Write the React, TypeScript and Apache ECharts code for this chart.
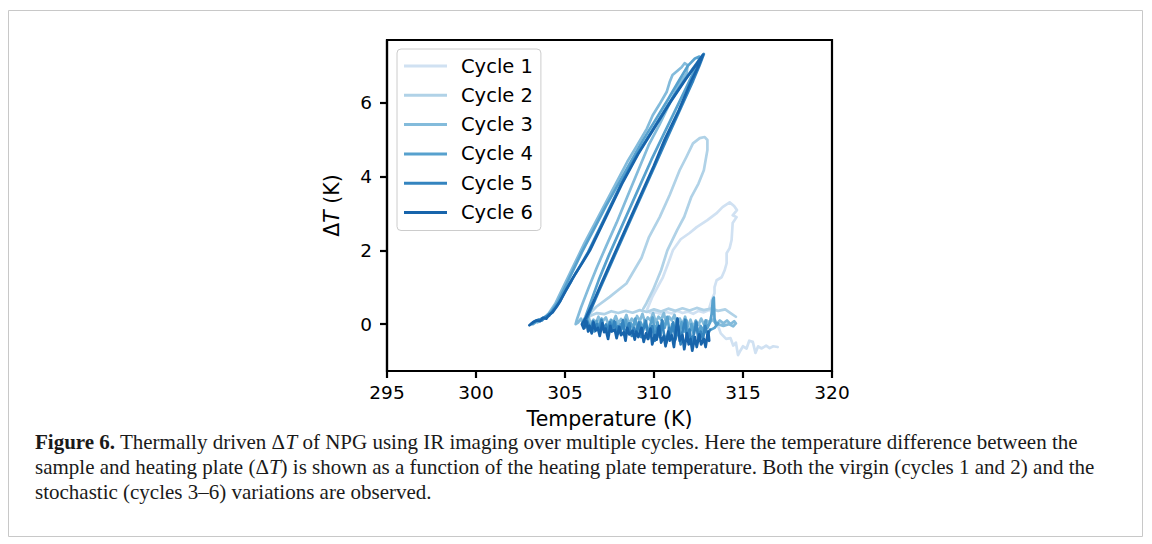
import React, { useEffect, useRef } from "react";
import * as echarts from "echarts";

// ---- data ----
const cycleNames = ["Cycle 1", "Cycle 2", "Cycle 3", "Cycle 4", "Cycle 5", "Cycle 6"];
const cycleColors = ["#d0e1f2", "#b0d2e7", "#83bbdb", "#57a1ce", "#3484bf", "#1764ab"];
const xTickValues = [295, 300, 305, 310, 315, 320];
const yTickValues = [0, 2, 4, 6];

const cycle1: number[][] = [
  [313.1, 0.38], [312.8, 0.32], [312.5, 0.36], [312.2, 0.28], [311.9, 0.34], [311.6, 0.3], [311.3, 0.36],
  [311.0, 0.29], [310.7, 0.33], [310.4, 0.27], [310.1, 0.32], [309.8, 0.3], [309.6, 0.38],
  [309.9, 0.73], [310.2, 1.0], [310.5, 1.27], [310.8, 1.65], [311.06, 2.0], [311.5, 2.3], [312.0, 2.47],
  [312.4, 2.63], [313.0, 2.82], [313.5, 3.0], [313.85, 3.17], [314.25, 3.3], [314.5, 3.2], [314.66, 3.09],
  [314.42, 2.95], [314.64, 2.9], [314.42, 2.74], [314.36, 2.28], [314.25, 2.06], [314.08, 1.92], [314.08, 1.65],
  [313.97, 1.46], [313.8, 1.27], [313.52, 1.19], [313.4, 1.0], [313.4, 0.84], [313.24, 0.65], [313.12, 0.46],
  [313.3, 0.2], [313.6, -0.05], [313.75, -0.25], [314.05, -0.4], [314.3, -0.38], [314.45, -0.58], [314.6, -0.5],
  [314.72, -0.84], [314.85, -0.72], [315.0, -0.6], [315.2, -0.66], [315.35, -0.45], [315.55, -0.48],
  [315.7, -0.78], [315.85, -0.6], [316.05, -0.66], [316.3, -0.58], [316.5, -0.65], [316.7, -0.6], [316.95, -0.62],
];

const cycle2: number[][] = [
  [309.4, 0.42], [309.57, 0.56], [309.94, 0.92], [310.4, 1.46], [310.75, 2.0], [311.3, 2.55], [311.7, 2.91],
  [312.1, 3.45], [312.5, 3.81], [312.8, 4.17], [313.0, 4.72], [313.0, 4.99], [312.85, 5.07], [312.57, 5.04],
  [312.19, 4.9], [311.82, 4.53], [311.44, 4.17], [310.88, 3.5], [310.32, 2.9], [309.72, 2.36], [309.3, 1.8],
  [308.45, 1.1], [307.51, 0.74], [306.76, 0.47], [306.39, 0.29], [306.1, 0.12],
  [306.4, 0.22], [306.8, 0.3], [307.2, 0.27], [307.6, 0.35], [308.0, 0.3], [308.4, 0.36], [308.8, 0.31],
  [309.2, 0.38], [309.6, 0.33], [310.0, 0.4], [310.4, 0.34], [310.8, 0.42], [311.2, 0.36], [311.6, 0.43],
  [312.0, 0.37], [312.4, 0.44], [312.8, 0.38], [313.2, 0.42], [313.6, 0.36], [314.0, 0.4], [314.3, 0.3], [314.6, 0.2],
];

const cycle3: number[][] = [
  [303.45, 0.05], [303.8, 0.15], [304.1, 0.3], [304.45, 0.55], [304.8, 0.9], [305.2, 1.3], [305.6, 1.7],
  [306.1, 2.2], [306.7, 2.75], [307.3, 3.3], [307.9, 3.85], [308.5, 4.4], [309.0, 4.8], [309.6, 5.3],
  [309.93, 5.66], [310.3, 5.95], [310.71, 6.29], [310.88, 6.56], [311.04, 6.75], [311.55, 6.96], [311.72, 7.07],
  [311.89, 7.02], [311.83, 6.8], [311.55, 6.61], [311.4, 6.5],
  [310.9, 6.0], [310.3, 5.4], [309.7, 4.85], [309.1, 4.15], [308.5, 3.45], [307.9, 2.75], [307.3, 2.1],
  [306.8, 1.55], [306.3, 0.95], [305.9, 0.45], [305.65, 0.1], [305.6, 0.0],
  [305.75, 0.05], [305.9, 0.15], [306.05, -0.02], [306.2, 0.1], [306.32, 0.2], [306.45, 0.0], [306.6, 0.12],
  [306.75, 0.05], [306.88, 0.2], [307.0, -0.02], [307.15, 0.1], [307.3, 0.18], [307.42, 0.0], [307.58, 0.12],
  [307.7, 0.05], [307.85, 0.22], [308.0, 0.02], [308.15, 0.14], [308.3, 0.08], [308.45, 0.25], [308.6, 0.0],
  [308.75, 0.15], [308.9, 0.05], [309.05, 0.22], [309.2, 0.08], [309.35, 0.28], [309.5, 0.05], [309.65, 0.18],
  [309.8, 0.1], [309.95, 0.3], [310.1, 0.05], [310.25, 0.2], [310.4, 0.12], [310.55, 0.3], [310.7, 0.0],
  [310.85, 0.2], [311.0, 0.1], [311.15, 0.25], [311.3, -0.05], [311.45, 0.15], [311.6, 0.0], [311.75, 0.2],
  [311.9, -0.05], [312.05, 0.12], [312.2, -0.08], [312.35, 0.1], [312.5, -0.02], [312.65, 0.15], [312.8, 0.0],
  [312.95, 0.1], [313.1, 0.05], [313.3, 0.12], [313.5, 0.0], [313.7, 0.1], [313.9, 0.02], [314.1, 0.1],
  [314.3, 0.0], [314.5, 0.08], [314.6, 0.02], [314.45, -0.06], [314.2, 0.0], [313.9, -0.05], [313.6, 0.0],
];

const cycle4: number[][] = [
  [303.2, 0.0], [303.55, 0.12], [303.9, 0.2], [304.25, 0.35], [304.6, 0.6], [305.0, 1.0], [305.45, 1.45],
  [305.95, 1.95], [306.6, 2.55], [307.3, 3.2], [308.0, 3.8], [308.7, 4.4], [309.4, 5.0], [310.1, 5.55],
  [310.8, 6.1], [311.4, 6.6], [311.9, 7.0], [312.3, 7.2], [312.55, 7.25], [312.5, 7.1],
  [311.9, 6.5], [311.2, 5.8], [310.5, 5.1], [309.85, 4.45], [309.25, 3.8], [308.65, 3.15], [308.05, 2.5],
  [307.45, 1.85], [306.9, 1.2], [306.45, 0.6], [306.15, 0.2], [306.0, 0.05],
  [306.12, -0.08], [306.25, 0.12], [306.4, -0.12], [306.52, 0.02], [306.65, -0.2], [306.78, 0.08],
  [306.9, -0.1], [307.05, 0.15], [307.2, -0.15], [307.32, 0.0], [307.45, -0.22], [307.6, 0.1], [307.72, -0.08],
  [307.85, 0.05], [308.0, -0.25], [308.12, 0.0], [308.3, -0.15], [308.42, 0.12], [308.55, -0.2], [308.7, 0.02],
  [308.82, -0.1], [308.95, 0.15], [309.1, -0.22], [309.25, 0.05], [309.38, -0.12], [309.5, 0.1], [309.65, -0.25],
  [309.8, 0.0], [309.92, 0.18], [310.05, -0.2], [310.2, 0.05], [310.35, -0.3], [310.48, 0.08], [310.6, -0.1],
  [310.75, 0.2], [310.9, -0.28], [311.02, 0.0], [311.15, -0.15], [311.3, 0.15], [311.42, -0.32], [311.55, 0.05],
  [311.7, -0.2], [311.82, 0.1], [311.95, -0.35], [312.1, 0.0], [312.22, -0.25], [312.35, 0.08], [312.5, -0.3],
  [312.62, -0.05], [312.75, -0.2], [312.9, 0.1], [313.0, -0.1], [313.15, 0.05], [313.25, 0.3], [313.3, 0.65],
  [313.36, 0.72], [313.4, 0.15], [313.48, 0.0], [313.6, 0.02], [313.4, -0.1], [313.2, -0.15],
];

const cycle5: number[][] = [
  [303.1, 0.0], [303.3, 0.08], [303.5, 0.12], [303.7, 0.1], [303.9, 0.2], [304.1, 0.22], [304.3, 0.35],
  [304.55, 0.5], [304.75, 0.65], [305.0, 0.88], [305.3, 1.12], [305.6, 1.38], [305.9, 1.62], [306.3, 1.95],
  [307.2, 2.85], [308.1, 3.75], [309.0, 4.55], [309.9, 5.25], [310.8, 5.95], [311.7, 6.6], [312.45, 7.1],
  [312.8, 7.32],
  [312.55, 7.0], [312.2, 6.6], [311.5, 5.85], [310.75, 5.05], [310.1, 4.35], [309.45, 3.65], [308.8, 2.95],
  [308.15, 2.25], [307.55, 1.6], [307.0, 1.0], [306.55, 0.5], [306.2, 0.12], [306.0, 0.02],
  [306.1, -0.1], [306.22, 0.1], [306.35, -0.05], [306.45, -0.18], [306.58, 0.08], [306.7, -0.1], [306.8, 0.0],
  [306.92, -0.22], [307.05, 0.1], [307.18, -0.12], [307.3, -0.02], [307.4, -0.28], [307.52, 0.05], [307.65, -0.15],
  [307.78, 0.08], [307.9, -0.25], [308.0, -0.05], [308.12, -0.2], [308.25, 0.1], [308.38, -0.3], [308.5, -0.12],
  [308.6, 0.02], [308.75, -0.32], [308.88, -0.1], [309.0, -0.25], [309.15, 0.05], [309.28, -0.35], [309.4, -0.15],
  [309.55, 0.08], [309.68, -0.4], [309.8, -0.2], [309.9, -0.05], [310.05, -0.45], [310.2, -0.1], [310.32, -0.35],
  [310.45, 0.1], [310.55, -0.25], [310.7, -0.5], [310.85, -0.1], [310.95, -0.3], [311.08, 0.05], [311.2, -0.42],
  [311.35, -0.15], [311.5, -0.55], [311.6, -0.2], [311.75, 0.12], [311.85, -0.4], [312.0, -0.15], [312.1, -0.5],
  [312.25, -0.25], [312.38, 0.05], [312.5, -0.45], [312.62, -0.2], [312.75, -0.4], [312.88, -0.05], [313.0, -0.3],
  [313.15, -0.15],
];

const cycle6: number[][] = [
  [303.0, -0.03], [303.2, 0.05], [303.4, 0.1], [303.6, 0.08], [303.75, 0.17], [303.95, 0.15], [304.1, 0.25],
  [304.3, 0.32], [304.5, 0.45], [304.7, 0.6], [304.9, 0.78], [305.15, 1.0], [305.4, 1.22], [305.7, 1.45],
  [306.0, 1.68], [306.4, 2.0], [307.3, 2.9], [308.2, 3.8], [309.1, 4.6], [310.0, 5.3], [310.9, 6.0],
  [311.8, 6.65], [312.4, 7.05], [312.75, 7.3],
  [312.5, 7.0], [312.1, 6.6], [311.4, 5.8], [310.6, 5.0], [310.0, 4.3], [309.35, 3.6], [308.7, 2.9],
  [308.05, 2.2], [307.5, 1.6], [306.95, 1.0], [306.5, 0.5], [306.15, 0.15], [305.95, 0.0],
  [306.05, -0.12], [306.2, 0.08], [306.3, -0.2], [306.38, -0.05], [306.5, -0.25], [306.6, 0.05], [306.72, -0.18],
  [306.85, -0.1], [306.95, -0.32], [307.1, 0.02], [307.2, -0.22], [307.28, -0.12], [307.42, -0.4], [307.55, -0.05],
  [307.62, -0.2], [307.8, -0.15], [307.9, -0.38], [308.05, -0.08], [308.15, -0.3], [308.3, -0.22], [308.4, -0.45],
  [308.5, -0.1], [308.62, -0.28], [308.8, -0.18], [308.92, -0.42], [309.0, -0.2], [309.12, -0.35], [309.3, -0.1],
  [309.42, -0.48], [309.55, -0.25], [309.65, -0.4], [309.8, -0.12], [309.9, -0.55], [310.05, -0.3], [310.15, -0.42],
  [310.28, -0.05], [310.4, -0.5], [310.55, -0.32], [310.65, -0.6], [310.8, -0.2], [310.88, -0.45], [311.0, -0.3],
  [311.12, -0.62], [311.25, -0.1], [311.32, 0.15], [311.45, -0.45], [311.6, -0.3], [311.7, -0.68], [311.85, -0.25],
  [311.95, -0.55], [312.05, -0.4], [312.15, -0.72], [312.3, -0.35], [312.4, -0.62], [312.55, -0.28], [312.65, -0.55],
  [312.8, -0.4], [312.9, -0.62], [313.0, -0.3], [313.1, -0.45], [313.05, -0.2],
];

const cycles = [cycle1, cycle2, cycle3, cycle4, cycle5, cycle6];

const captionLines = [
  "{b|Figure 6.} Thermally driven Δ{i|T} of NPG using IR imaging over multiple cycles. Here the temperature difference between the",
  "sample and heating plate (Δ{i|T}) is shown as a function of the heating plate temperature. Both the virgin (cycles 1 and 2) and the",
  "stochastic (cycles 3–6) variations are observed.",
];

export default function App() {
  const ref = useRef<HTMLDivElement>(null);
  useEffect(() => {
    if (!ref.current) return;
    const chart = echarts.init(ref.current, undefined, { renderer: "svg" });
    const sans = "DejaVu Sans";
    const serif = "Liberation Serif";
    const capSize = 21;
    const capColor = "#1a1a1a";
    const option: any = {
      animation: false,
      backgroundColor: "#ffffff",
      grid: {
        left: 387, top: 40, width: 445, height: 331,
        show: true, borderColor: "#000", borderWidth: 2.2, backgroundColor: "transparent",
      },
      legend: {
        orient: "vertical", left: 397, top: 49,
        icon: "rect", itemWidth: 43, itemHeight: 3, itemGap: 9.3,
        data: cycleNames,
        textStyle: { fontFamily: sans, fontSize: 19.5, color: "#000", lineHeight: 20, padding: [0, 0, 0, 9] },
        backgroundColor: "rgba(255,255,255,0.8)", borderColor: "#cccccc", borderWidth: 1, borderRadius: 4,
        padding: [7, 8, 8, 7],
        selectedMode: false,
      },
      xAxis: {
        type: "value", min: xTickValues[0], max: xTickValues[xTickValues.length - 1], interval: 5,
        name: "Temperature (K)", nameLocation: "middle", nameGap: 40,
        nameTextStyle: { fontFamily: sans, fontSize: 20.5, color: "#000", lineHeight: 16 },
        axisLine: { show: true, onZero: false, lineStyle: { color: "#000", width: 2.2 } },
        axisTick: { show: true, inside: false, length: 7, lineStyle: { color: "#000", width: 2.2 } },
        axisLabel: { fontFamily: sans, fontSize: 18.5, color: "#000", margin: 12 },
        splitLine: { show: false },
      },
      yAxis: {
        type: "value", min: -1.27, max: 7.7,
        name: "{n|Δ}{i|T} (K)", nameLocation: "middle", nameGap: 45, nameRotate: 90,
        nameTextStyle: {
          fontFamily: sans, fontSize: 20.5, color: "#000",
          rich: {
            n: { fontFamily: sans, fontSize: 20.5, color: "#000" },
            i: { fontFamily: sans, fontSize: 20.5, color: "#000", fontStyle: "italic" },
          },
        },
        axisLine: { show: true, onZero: false, lineStyle: { color: "#000", width: 2.2 } },
        axisTick: { show: true, inside: false, length: 7, customValues: yTickValues, lineStyle: { color: "#000", width: 2.2 } },
        axisLabel: { fontFamily: sans, fontSize: 18.5, color: "#000", margin: 15, customValues: yTickValues },
        splitLine: { show: false },
      },
      series: cycles.map((d, i) => ({
        name: cycleNames[i], type: "line", data: d, showSymbol: false, symbol: "none",
        lineStyle: { width: 2.7, color: cycleColors[i], join: "round", cap: "round" },
        itemStyle: { color: cycleColors[i] },
        emphasis: { disabled: true }, z: 2 + i,
      })),
      graphic: [
        {
          type: "rect", silent: true, z: -10,
          shape: { x: 8.5, y: 10.5, width: 1134, height: 526 },
          style: { fill: "none", stroke: "#c8c8c8", lineWidth: 1 },
        },
        ...captionLines.map((t, k) => ({
          type: "text", silent: true, x: 35, y: 441.5 + k * 25,
          style: {
            text: t, fontFamily: serif, fontSize: capSize, fill: capColor, lineHeight: 16,
            verticalAlign: "middle", align: "left",
            rich: {
              b: { fontFamily: serif, fontSize: capSize, fontWeight: "bold", fill: capColor, lineHeight: 16 },
              i: { fontFamily: serif, fontSize: capSize, fontStyle: "italic", fill: capColor, lineHeight: 16 },
            },
          },
        })),
      ],
    };
    chart.setOption(option);
    return () => chart.dispose();
  }, []);
  return (
    <div
      ref={ref}
      style={{ position: "absolute", left: 0, top: 0, width: 1152, height: 544, background: "#fff" }}
    />
  );
}
